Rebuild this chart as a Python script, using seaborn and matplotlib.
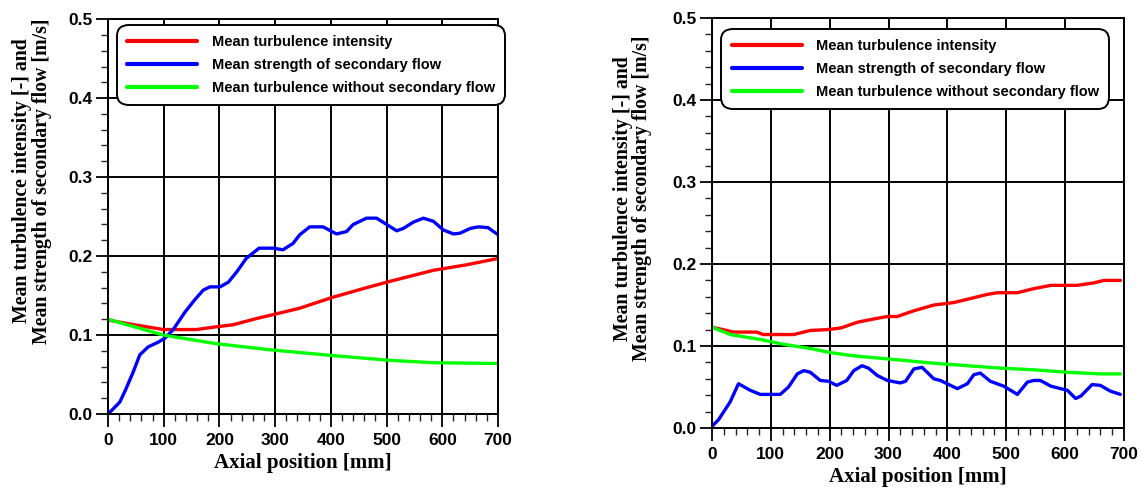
import matplotlib
matplotlib.use("Agg")
import matplotlib.pyplot as plt
from matplotlib.ticker import MultipleLocator
import seaborn as sns
import pandas as pd

# left panel
left_int_x = [0, 48, 99, 159, 189, 224, 267, 303, 344, 404, 464, 506, 584, 644, 700]
left_int_y = [0.119, 0.113, 0.107, 0.107, 0.110, 0.113, 0.121, 0.127, 0.134, 0.148, 0.160, 0.168, 0.182, 0.189, 0.197]

left_sec_x = [0, 21, 31, 45, 57, 72, 90, 102, 117, 138, 156, 171, 183, 201, 216, 231, 248, 271, 296, 314,
              332, 344, 362, 386, 410, 428, 440, 464, 482, 500, 518, 530, 548, 566, 584, 602, 620, 632, 650,
              665, 682, 700]
left_sec_y = [0.0, 0.015, 0.030, 0.053, 0.075, 0.085, 0.091, 0.096, 0.107, 0.129, 0.145, 0.157, 0.161, 0.161,
              0.167, 0.180, 0.197, 0.210, 0.210, 0.208, 0.216, 0.227, 0.237, 0.237, 0.228, 0.231, 0.240,
              0.248, 0.248, 0.240, 0.232, 0.235, 0.243, 0.248, 0.244, 0.233, 0.228, 0.229, 0.235, 0.237,
              0.236, 0.227]

left_nosec_x = [0, 99, 195, 296, 404, 506, 584, 700]
left_nosec_y = [0.120, 0.100, 0.089, 0.081, 0.074, 0.068, 0.065, 0.064]

# right panel
right_int_x = [0, 37, 76, 87, 139, 167, 196, 219, 247, 275, 298, 315, 343, 377, 411, 434, 468, 485, 519,
               547, 576, 621, 649, 666, 694]
right_int_y = [0.123, 0.117, 0.117, 0.114, 0.114, 0.119, 0.120, 0.122, 0.129, 0.133, 0.136, 0.136, 0.143,
               0.150, 0.153, 0.157, 0.163, 0.165, 0.165, 0.170, 0.174, 0.174, 0.177, 0.180, 0.180]

right_sec_x = [0, 11, 31, 45, 65, 82, 116, 130, 145, 156, 167, 184, 198, 212, 229, 241, 255, 266, 281, 298,
               320, 329, 343, 357, 377, 388, 417, 434, 445, 456, 473, 496, 519, 536, 547, 558, 576, 604,
               618, 627, 646, 660, 677, 694]
right_sec_y = [0.002, 0.010, 0.032, 0.054, 0.046, 0.041, 0.041, 0.050, 0.066, 0.070, 0.068, 0.058, 0.057,
               0.052, 0.058, 0.070, 0.076, 0.073, 0.064, 0.058, 0.055, 0.057, 0.072, 0.074, 0.060, 0.058,
               0.048, 0.054, 0.065, 0.067, 0.057, 0.051, 0.041, 0.056, 0.058, 0.058, 0.051, 0.046, 0.036,
               0.039, 0.053, 0.052, 0.045, 0.041]

right_nosec_x = [0, 31, 82, 122, 167, 201, 241, 303, 377, 434, 491, 547, 604, 660, 694]
right_nosec_y = [0.123, 0.114, 0.108, 0.102, 0.097, 0.092, 0.088, 0.084, 0.079, 0.076, 0.073, 0.071,
                 0.068, 0.066, 0.066]

labels = ["Mean turbulence intensity",
          "Mean strength of secondary flow",
          "Mean turbulence without secondary flow"]
colors = ["#ff0000", "#0000ff", "#00ff00"]


def make_df(series):
    rows = []
    for name, xs, ys in series:
        rows += [{"series": name, "x": a, "y": b} for a, b in zip(xs, ys)]
    return pd.DataFrame(rows)


sns.set_theme(style="white")
plt.rcParams["font.family"] = ["Liberation Sans", "DejaVu Sans"]
plt.rcParams["text.color"] = "black"
plt.rcParams["axes.labelcolor"] = "black"

fig = plt.figure(figsize=(11.41, 4.9), dpi=100)
ax1 = fig.add_axes([0.0947, 0.155, 0.3418, 0.806])
ax2 = fig.add_axes([0.624, 0.1265, 0.361, 0.8367])

panels = [
    (ax1, [(labels[0], left_int_x, left_int_y), (labels[1], left_sec_x, left_sec_y),
           (labels[2], left_nosec_x, left_nosec_y)], (0.012, 0.997), 0.59, -0.145),
    (ax2, [(labels[0], right_int_x, right_int_y), (labels[1], right_sec_x, right_sec_y),
           (labels[2], right_nosec_x, right_nosec_y)], (0.012, 0.985), 0.56, -0.145),
]

for ax, series, anchor, ylab_y, ylab_x in panels:
    df = make_df(series)
    sns.lineplot(data=df, x="x", y="y", hue="series", hue_order=labels,
                 palette=colors, sort=False, estimator=None, linewidth=2.4, ax=ax)
    ax.set_xlim(0, 700)
    ax.set_ylim(0, 0.5)
    ax.xaxis.set_major_locator(MultipleLocator(100))
    ax.xaxis.set_minor_locator(MultipleLocator(20))
    ax.yaxis.set_major_locator(MultipleLocator(0.1))
    ax.yaxis.set_minor_locator(MultipleLocator(0.02))
    ax.yaxis.set_major_formatter(plt.FormatStrFormatter("%.1f"))
    ax.grid(True, which="major", color="black", linewidth=1.4)
    ax.set_axisbelow(True)
    ax.tick_params(which="major", direction="out", length=9, width=1.3,
                   labelsize=12.5, colors="black", left=True, bottom=True)
    ax.tick_params(which="minor", direction="out", length=5, width=1.0,
                   left=True, bottom=True)
    ax.tick_params(axis="x", which="major", pad=5)
    ax.tick_params(axis="y", which="major", pad=2)
    for lab in ax.get_xticklabels() + ax.get_yticklabels():
        lab.set_fontweight("bold")
    for sp in ax.spines.values():
        sp.set_color("black")
        sp.set_linewidth(1.4)
    ax.set_xlabel("Axial position [mm]", fontsize=15, fontweight="bold",
                  family="Liberation Serif", labelpad=3)
    ax.set_ylabel("Mean turbulence intensity [-] and\nMean strength of secondary flow [m/s]",
                  fontsize=14.3, fontweight="bold", family="Liberation Serif",
                  linespacing=0.95)
    ax.yaxis.set_label_coords(ylab_x, ylab_y)
    leg = ax.legend(loc="upper left", bbox_to_anchor=anchor, frameon=True, fancybox=True,
                    prop={"family": "Liberation Sans", "weight": "bold", "size": 10.5},
                    handlelength=4.8, handletextpad=1.0, labelspacing=0.62,
                    borderpad=0.5, framealpha=1, edgecolor="black")
    leg.get_frame().set_linewidth(1.4)
    leg.get_frame().set_boxstyle("round,pad=0.2,rounding_size=0.8")
    for h in leg.get_lines():
        h.set_linewidth(3)
    for t in leg.get_texts():
        t.set_color("black")

fig.savefig("out.png", dpi=100, facecolor="white")
